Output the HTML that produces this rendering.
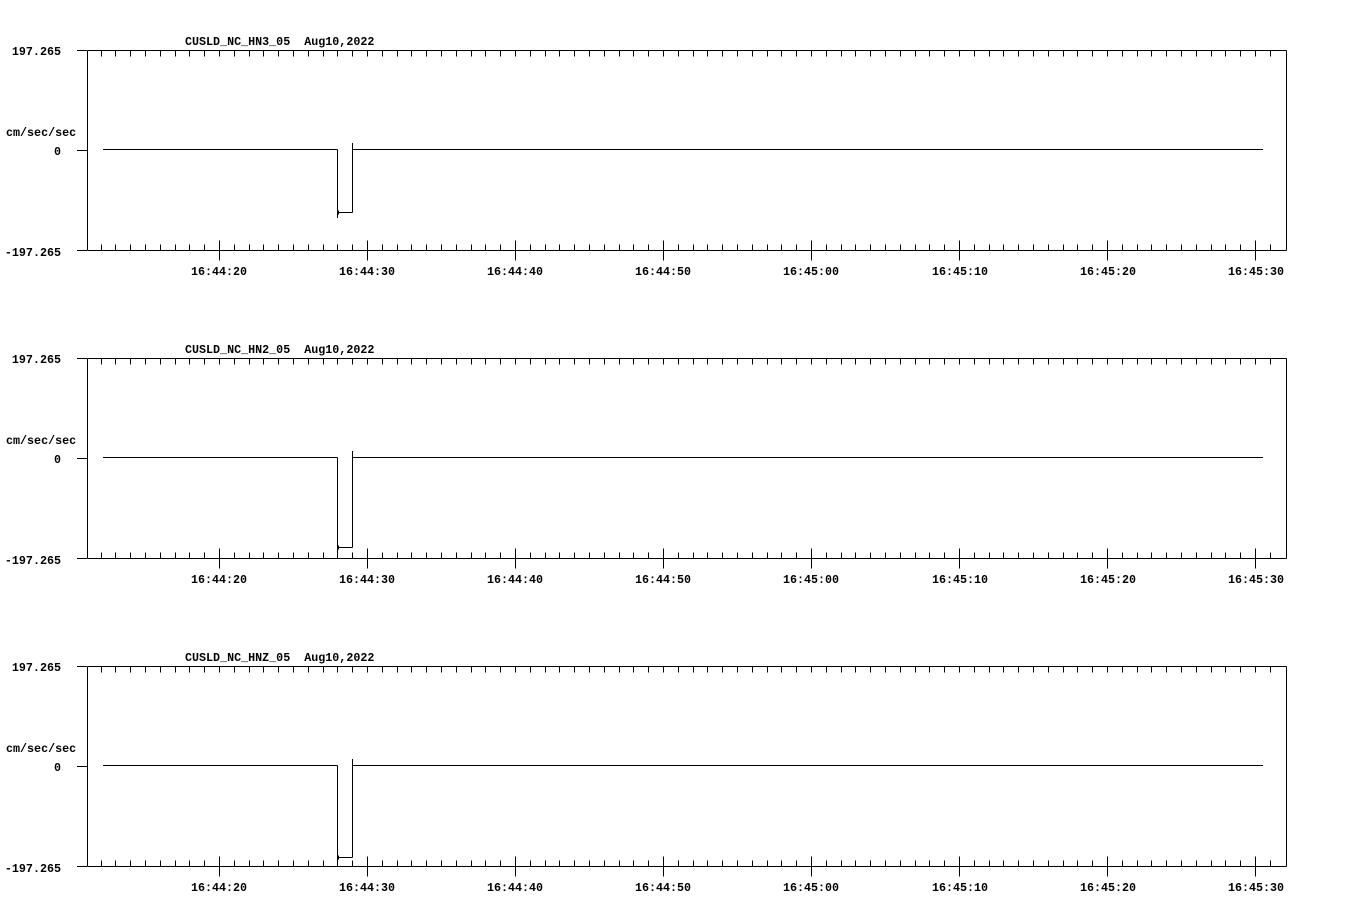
<!DOCTYPE html>
<html><head><meta charset="utf-8"><style>
html,body{margin:0;padding:0;background:#fff}
svg{display:block}
text{font-family:"Liberation Mono",monospace;font-weight:bold;font-size:11.7px;fill:#000;white-space:pre}
</style></head><body>
<svg id="s" width="1358" height="924" viewBox="0 0 1358 924" shape-rendering="crispEdges">
<g id="p0">
<text x="185" y="45">CUSLD_NC_HN3_05&#160;&#160;Aug10,2022</text>
<text x="61" y="55" text-anchor="end">197.265</text>
<text x="6" y="136">cm/sec/sec</text>
<text x="61" y="155" text-anchor="end">0</text>
<text x="61" y="256" text-anchor="end">-197.265</text>
<text x="219" y="275" text-anchor="middle">16:44:20</text>
<text x="367" y="275" text-anchor="middle">16:44:30</text>
<text x="515" y="275" text-anchor="middle">16:44:40</text>
<text x="663" y="275" text-anchor="middle">16:44:50</text>
<text x="811" y="275" text-anchor="middle">16:45:00</text>
<text x="960" y="275" text-anchor="middle">16:45:10</text>
<text x="1108" y="275" text-anchor="middle">16:45:20</text>
<text x="1256" y="275" text-anchor="middle">16:45:30</text>
</g>
<g id="p1">
<text x="185" y="353">CUSLD_NC_HN2_05&#160;&#160;Aug10,2022</text>
<text x="61" y="363" text-anchor="end">197.265</text>
<text x="6" y="444">cm/sec/sec</text>
<text x="61" y="463" text-anchor="end">0</text>
<text x="61" y="564" text-anchor="end">-197.265</text>
<text x="219" y="583" text-anchor="middle">16:44:20</text>
<text x="367" y="583" text-anchor="middle">16:44:30</text>
<text x="515" y="583" text-anchor="middle">16:44:40</text>
<text x="663" y="583" text-anchor="middle">16:44:50</text>
<text x="811" y="583" text-anchor="middle">16:45:00</text>
<text x="960" y="583" text-anchor="middle">16:45:10</text>
<text x="1108" y="583" text-anchor="middle">16:45:20</text>
<text x="1256" y="583" text-anchor="middle">16:45:30</text>
</g>
<g id="p2">
<text x="185" y="661">CUSLD_NC_HNZ_05&#160;&#160;Aug10,2022</text>
<text x="61" y="671" text-anchor="end">197.265</text>
<text x="6" y="752">cm/sec/sec</text>
<text x="61" y="771" text-anchor="end">0</text>
<text x="61" y="872" text-anchor="end">-197.265</text>
<text x="219" y="891" text-anchor="middle">16:44:20</text>
<text x="367" y="891" text-anchor="middle">16:44:30</text>
<text x="515" y="891" text-anchor="middle">16:44:40</text>
<text x="663" y="891" text-anchor="middle">16:44:50</text>
<text x="811" y="891" text-anchor="middle">16:45:00</text>
<text x="960" y="891" text-anchor="middle">16:45:10</text>
<text x="1108" y="891" text-anchor="middle">16:45:20</text>
<text x="1256" y="891" text-anchor="middle">16:45:30</text>
</g>
</svg>
<script>
(function(){
var s=document.getElementById('s'),NS='http://www.w3.org/2000/svg';
function L(x1,y1,x2,y2){var l=document.createElementNS(NS,'line');l.setAttribute('x1',x1);l.setAttribute('y1',y1);l.setAttribute('x2',x2);l.setAttribute('y2',y2);l.setAttribute('stroke','#000');l.setAttribute('stroke-width','1');s.appendChild(l);}
var drops=[212,239,241];
for(var p=0;p<3;p++){
 var o=p*308,t=50.5+o,b=250.5+o,z=150.5+o;
 L(87.5,t,1286.5,t);L(87.5,b,1286.5,b);L(87.5,t,87.5,b);L(1286.5,t,1286.5,b);
 L(77,t,87,t);L(77,z,87,z);L(77,b,87,b);
 for(var i=0;i<80;i++){var x=Math.round(219+(i-8)*14.8)+0.5;if(x<90||x>1285)continue;
  L(x,t,x,t+6);
  if((i-8)%10===0){L(x,b-10,x,b+10);}else{L(x,b-6,x,b);}
 }
 var zz=z-1,d=drops[p]+o+0.5;
 L(103,zz,337.5,zz);L(337.5,zz,337.5,p===0?218+o:b);
 L(337.5,d,352.5,d);L(338.5,d-2,338.5,d+2);
 L(352.5,d,352.5,143+o);L(352.5,zz,1263,zz);
}
})();
</script>
</body></html>
